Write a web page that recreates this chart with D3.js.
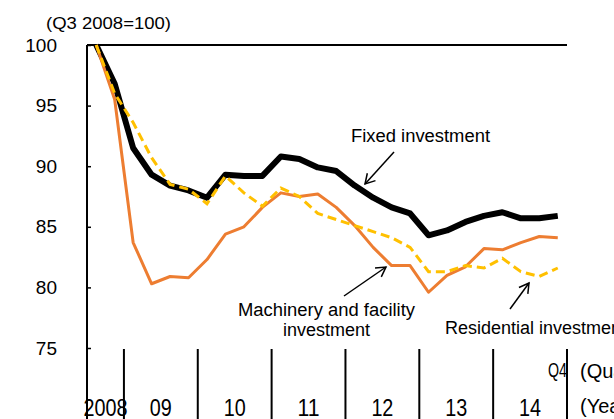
<!DOCTYPE html>
<html>
<head>
<meta charset="utf-8">
<script src="https://cdn.jsdelivr.net/npm/d3@7"></script>
<style>
  html, body { margin: 0; padding: 0; background: #fff; }
  svg { display: block; }
  text { font-family: "Liberation Sans", Arial, sans-serif; fill: #000; }
  .narrow { font-family: "Liberation Sans Narrow", "Arial Narrow", "Liberation Sans", sans-serif; font-stretch: condensed; }
</style>
</head>
<body>
<svg id="chart" width="614" height="419"></svg>
<script>
// ---- data ----
const quarters = [
  "2008Q3","2008Q4",
  "2009Q1","2009Q2","2009Q3","2009Q4",
  "2010Q1","2010Q2","2010Q3","2010Q4",
  "2011Q1","2011Q2","2011Q3","2011Q4",
  "2012Q1","2012Q2","2012Q3","2012Q4",
  "2013Q1","2013Q2","2013Q3","2013Q4",
  "2014Q1","2014Q2","2014Q3","2014Q4"
];
const fixedInvestment = [100, 96.8, 91.5, 89.3, 88.4, 88.0, 87.4, 89.3, 89.2, 89.2,
  90.8, 90.6, 89.9, 89.6, 88.4, 87.4, 86.6, 86.1, 84.3, 84.7, 85.4, 85.9, 86.2, 85.7, 85.7, 85.9];
const machineryInvestment = [100, 95.5, 83.7, 80.3, 80.9, 80.8, 82.3, 84.4, 85.0, 86.6,
  87.8, 87.5, 87.7, 86.6, 85.1, 83.3, 81.8, 81.8, 79.6, 81.0, 81.7, 83.2, 83.1, 83.7, 84.2, 84.1];
const residentialInvestment = [100, 96.0, 93.6, 90.7, 88.5, 88.1, 86.9, 89.2, 87.8, 86.7,
  88.2, 87.5, 86.1, 85.6, 85.1, 84.6, 84.1, 83.3, 81.3, 81.3, 81.8, 81.6, 82.4, 81.3, 80.9, 81.6];
const yTicks = [75, 80, 85, 90, 95, 100];
const yearLabels = ["2008", "09", "10", "11", "12", "13", "14"];
const yearOfLabel = ["2008", "2009", "2010", "2011", "2012", "2013", "2014"];
const unitLabel = "(Q3 2008=100)";

// ---- layout ----
const svg = d3.select("#chart");
const mLeft = 87, mRight = 567, mTop = 45, mBottom = 348, H = 419;

const x = d3.scaleBand().domain(quarters).range([mLeft, mRight]).padding(0);
const y = d3.scaleLinear().domain([75, 100]).range([mBottom, mTop]);
const cx = q => x(q) + x.bandwidth() / 2;

// fit a text element to a target width (measured on the reference)
function fit(sel, w) {
  sel.attr("textLength", w).attr("lengthAdjust", "spacingAndGlyphs");
  return sel;
}

// top border
svg.append("line").attr("x1", mLeft).attr("x2", mRight).attr("y1", y(100)).attr("y2", y(100))
  .attr("stroke", "#000").attr("stroke-width", 2);

// y axis
const yAxis = d3.axisLeft(y).tickValues(yTicks).tickSize(-4).tickPadding(30).tickFormat(d3.format("d"));
const ga = svg.append("g").attr("transform", `translate(${mLeft},0)`).call(yAxis);
ga.select(".domain").remove();
ga.selectAll(".tick line").attr("stroke", "#000").attr("stroke-width", 1.5);
ga.selectAll(".tick text").attr("font-size", 19).attr("font-family", "Liberation Sans, Arial, sans-serif").attr("fill", "#000");
svg.append("line").attr("x1", mLeft).attr("x2", mLeft).attr("y1", mTop).attr("y2", H)
  .attr("stroke", "#000").attr("stroke-width", 2);

// year separators
const sepQuarters = quarters.filter(q => q.endsWith("Q1"));
const sepX = sepQuarters.map(q => x(q)).concat([mRight]);
svg.selectAll("line.sep").data(sepX).enter().append("line").attr("class", "sep")
  .attr("x1", d => d).attr("x2", d => d).attr("y1", mBottom + 1).attr("y2", H)
  .attr("stroke", "#000").attr("stroke-width", 2);

// year labels
svg.selectAll("text.year").data(yearLabels).enter().append("text").attr("class", "year narrow")
  .attr("x", (d, i) => {
    const qs = quarters.filter(q => q.startsWith(yearOfLabel[i]));
    return (x(qs[0]) + x(qs[qs.length - 1]) + x.bandwidth()) / 2;
  })
  .attr("y", 416).attr("text-anchor", "middle").attr("font-size", 24)
  .attr("textLength", d => d.length * 11).attr("lengthAdjust", "spacingAndGlyphs")
  .text(d => d);

// Q4 label
fit(svg.append("text").attr("class", "narrow").attr("x", mRight).attr("y", 377)
  .attr("text-anchor", "end").attr("font-size", 21).text("Q4"), 19);
svg.append("text").attr("x", 580).attr("y", 378).attr("font-size", 20).text("(Quarter)");
svg.append("text").attr("x", 580).attr("y", 413).attr("font-size", 20).text("(Year)");

// unit label
fit(svg.append("text").attr("x", 46).attr("y", 29).attr("font-size", 17).text(unitLabel), 125);

// lines
const line = d3.line().x((d, i) => cx(quarters[i])).y(d => y(d));
svg.append("path").datum(fixedInvestment).attr("d", line).attr("fill", "none")
  .attr("stroke", "#000").attr("stroke-width", 6).attr("stroke-linejoin", "round");
svg.append("path").datum(machineryInvestment).attr("d", line).attr("fill", "none")
  .attr("stroke", "#ED7D31").attr("stroke-width", 3).attr("stroke-linejoin", "round");
svg.append("path").datum(residentialInvestment).attr("d", line).attr("fill", "none")
  .attr("stroke", "#FFC000").attr("stroke-width", 3).attr("stroke-dasharray", "9,5");

// annotations
function arrow(x1, y1, x2, y2) {
  svg.append("line").attr("x1", x1).attr("y1", y1).attr("x2", x2).attr("y2", y2)
    .attr("stroke", "#000").attr("stroke-width", 1.5);
  const a = Math.atan2(y2 - y1, x2 - x1), L = 11, w = Math.PI / 6;
  const p = [[x2 - L * Math.cos(a - w), y2 - L * Math.sin(a - w)], [x2, y2],
             [x2 - L * Math.cos(a + w), y2 - L * Math.sin(a + w)]];
  svg.append("path").attr("d", d3.line()(p)).attr("fill", "none")
    .attr("stroke", "#000").attr("stroke-width", 1.5);
}
fit(svg.append("text").attr("x", 351).attr("y", 142).attr("font-size", 18).text("Fixed investment"), 139);
arrow(394, 152, 365, 184);
fit(svg.append("text").attr("x", 238).attr("y", 316).attr("font-size", 18).text("Machinery and facility"), 177);
fit(svg.append("text").attr("x", 283).attr("y", 336).attr("font-size", 18).text("investment"), 87);
arrow(344, 296, 386, 267);
svg.append("text").attr("x", 445).attr("y", 334).attr("font-size", 18).text("Residential investment");
arrow(510, 309, 529, 283);
</script>
</body>
</html>
